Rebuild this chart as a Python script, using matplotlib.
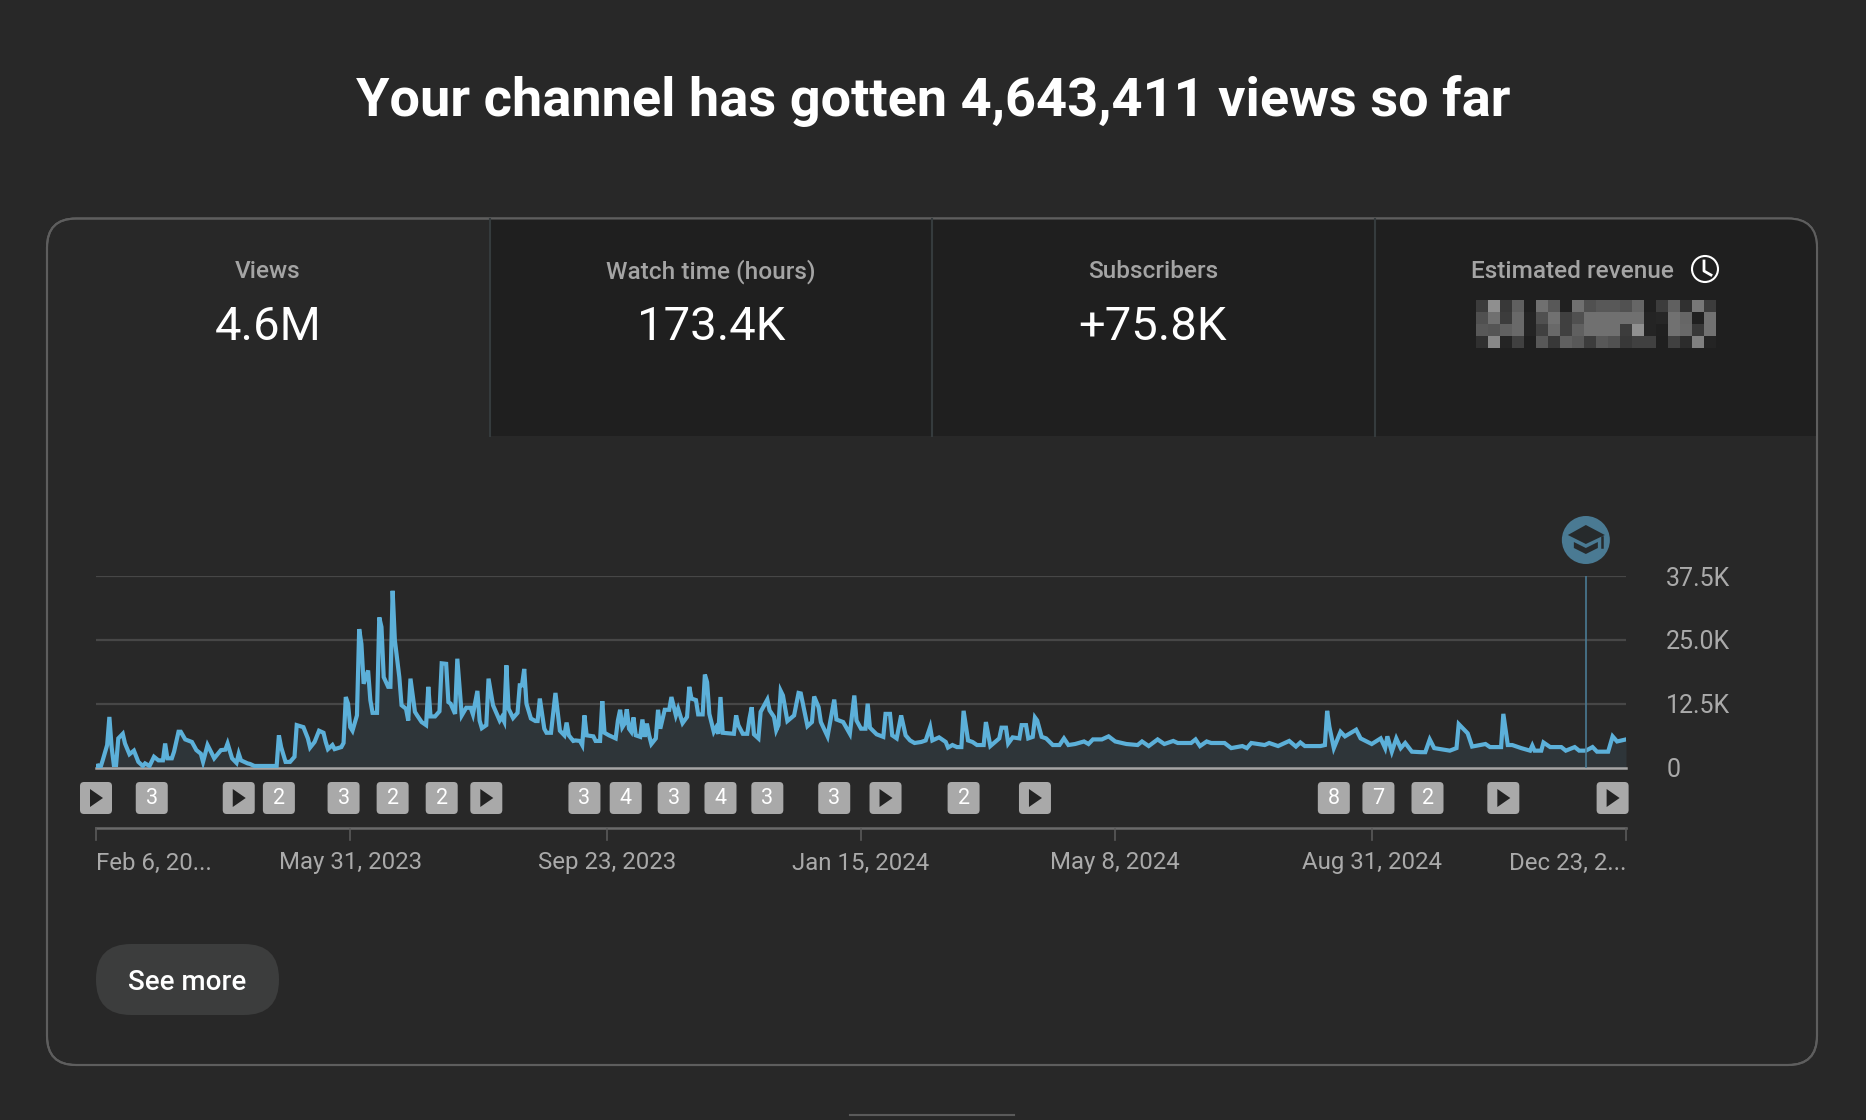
import numpy as np
import matplotlib
matplotlib.use("Agg")
from matplotlib import pyplot as plt
from matplotlib.patches import FancyBboxPatch, Rectangle, Circle, Polygon
from matplotlib.transforms import blended_transform_factory

W, H = 1866, 1120

title = "Your channel has gotten 4,643,411 views so far"
card_names = ["Views", "Watch time (hours)", "Subscribers", "Estimated revenue"]
card_values = ["4.6M", "173.4K", "+75.8K"]

# days since Feb 6, 2023 / views in thousands
days = [0,1,2,3,5,6,7,8,9,10,12,13,15,17,19,21,22,24,26,28,30,31,32,34,35,37,38,40,43,45,47,48,50,52,53,56,58,59,61,63,64,65,68,69,71,81,82,83,85,87,89,90,93,95,96,98,100,102,103,104,106,107,110,111,112,113,114,115,117,118,119,120,122,123,124,126,127,128,129,131,132,133,134,136,137,139,140,141,143,144,146,148,149,150,152,154,155,157,158,159,161,162,164,166,168,169,171,172,173,175,176,178,181,182,183,184,185,187,189,190,191,192,193,195,197,198,199,201,202,204,206,208,210,211,212,214,
        215,217,218,219,220,223,224,226,227,228,230,233,234,235,236,237,238,239,240,241,242,244,245,246,247,248,249,251,252,253,255,257,258,260,261,263,265,266,267,269,270,272,273,274,275,277,278,279,280,281,286,287,288,290,292,293,294,295,297,298,301,302,304,305,306,307,308,310,313,315,316,319,321,322,324,325,328,331,332,335,338,340,341,343,345,346,347,350,353,354,356,357,359,361,363,365,367,370,372,374,375,378,381,382,384,386,388,389,391,393,395,398,399,401,405,406,408,409,411,414,415,417,418,420,421,422,424,426,429,432,
        434,436,439,443,445,447,451,454,457,462,467,469,472,476,479,483,485,491,493,495,498,500,506,509,514,516,518,524,526,530,535,538,540,542,549,551,552,553,555,558,560,565,567,572,576,578,579,581,583,585,587,590,594,596,598,600,607,610,611,615,617,623,625,630,631,633,635,639,643,644,645,648,649,652,657,659,663,665,668,671,673,678,680,682,686]
views = [.3,.4,0,1.4,4.4,9.9,4.0,.5,.5,5.7,6.6,4.7,2.6,3.3,1.1,.3,.8,.3,2.1,1.4,1.4,4.7,1.8,1.8,3.1,7.0,7.0,5.5,5.0,3.4,2.7,1.1,4.4,2.7,1.8,3.4,3.5,4.7,1.8,.9,2.7,1.4,.8,.7,.3,.3,6.3,4.0,1.1,1.1,2.1,8.3,7.9,5.7,3.9,5.0,7.2,6.8,5.0,3.6,4.4,3.6,4.0,4.8,13.8,12.5,7.9,7.2,10.2,27.1,24.2,16.4,19.0,13.2,10.7,10.7,29.4,27.5,17.7,15.8,15.8,34.6,24.9,17.7,12.2,11.5,9.2,17.4,10.9,10.2,8.9,8.3,15.8,10.0,10.0,11.0,20.4,20.3,12.8,12.5,10.5,21.3,10.2,11.7,11.7,10.4,15.0,9.2,7.7,8.3,17.4,12.2,9.2,9.9,9.0,20.0,11.5,9.7,10.7,16.1,16.1,19.3,12.5,9.6,9.1,9.1,13.5,7.6,6.8,6.8,14.6,7.2,6.3,8.8,6.3,5.2,
         5.3,5.2,4.4,10.2,6.3,6.1,5.2,5.2,13.0,6.8,6.3,5.7,9.2,11.3,7.9,8.6,11.4,7.6,7.0,9.8,6.3,6.0,9.4,6.0,8.6,6.3,4.6,5.7,11.3,7.6,11.3,11.3,13.8,10.2,11.5,8.7,9.9,15.8,13.5,13.2,10.4,10.4,18.2,16.7,10.5,7.0,7.8,6.6,13.8,6.8,6.6,10.2,8.3,6.6,6.6,9.6,11.8,6.5,5.7,10.9,13.3,11.2,9.9,7.3,8.3,15.0,14.1,9.1,10.2,14.6,14.5,8.1,8.9,13.9,11.8,8.9,6.1,13.3,9.4,8.9,6.6,14.1,9.2,7.6,7.6,12.5,7.8,6.5,6.0,10.5,10.5,6.3,5.7,10.2,6.3,5.3,4.8,5.0,5.3,7.9,5.3,5.9,5.0,3.9,4.4,4.0,4.0,11.1,5.3,5.0,4.4,4.4,8.9,4.2,5.7,7.8,7.8,4.7,5.9,5.7,8.3,8.3,5.7,6.0,9.8,9.2,6.0,5.7,4.4,4.4,
         5.7,4.4,4.6,5.1,4.6,5.5,5.5,6.1,5.1,4.6,4.4,5.1,4.2,5.5,4.6,5.2,4.8,4.8,5.5,4.2,5.1,4.8,4.8,3.8,4.2,3.8,4.8,4.4,4.8,4.2,5.2,4.1,4.9,4.2,4.2,4.4,11.1,8.0,3.8,7.0,6.1,7.4,5.7,4.6,5.7,3.8,6.1,3.1,5.7,3.8,4.8,3.1,3.0,3.0,5.5,3.8,3.3,3.8,8.5,6.7,4.1,4.6,4.0,4.0,10.5,4.4,4.4,3.8,3.3,4.3,3.3,3.3,4.9,4.0,4.0,3.3,4.0,3.3,3.3,4.0,3.1,3.1,6.1,5.1,5.5]

y_ticks = [0, 12.5, 25.0, 37.5]
y_labels = ["0", "12.5K", "25.0K", "37.5K"]
x_tick_days = [0, 114, 229, 343, 457, 572, 686]
x_labels = ["Feb 6, 20...", "May 31, 2023", "Sep 23, 2023", "Jan 15, 2024", "May 8, 2024", "Aug 31, 2024", "Dec 23, 2..."]

# "" means a play triangle
badge_days = [0,25,64,82,111,133,155,175,219,237.5,259,280,301,331,354,389,421,555,575,597,631,680]
badge_text = ["","3","","2","3","2","2","","3","4","3","4","3","3","","2","","8","7","2","",""]
milestone_day = 668

# censored revenue, gray levels
blur = [[0x3c,0x8f,0x38,0x60,0x20,0x70,0x58,0x20,0x70,0x50,0x58,0x58,0x52,0x66,0x20,0x3c,0x60,0x30,0x78,0x3c],
        [0x50,0x70,0x3c,0x6a,0x24,0x50,0x72,0x40,0x50,0x70,0x70,0x70,0x70,0x70,0x24,0x26,0x72,0x66,0x20,0x72],
        [0x58,0x55,0x60,0x6a,0x24,0x40,0x6a,0x40,0x60,0x70,0x70,0x70,0x3c,0x90,0x24,0x20,0x72,0x68,0x38,0x72],
        [0x30,0x88,0x24,0x40,0x1f,0x58,0x38,0x60,0x58,0x3c,0x58,0x52,0x38,0x40,0x40,0x1f,0x40,0x2c,0x80,0x24]]

plt.rcParams['font.family'] = ['Roboto', 'DejaVu Sans']

BG = "#282828"
DARK = "#1f1f1f"
BORDER = "#5e5e5e"
GRAY = "#aaaaaa"
LINE = "#5cb0d9"
HAT = "#4a7a93"
ICON = "#262a2c"

fig = plt.figure(figsize=(W/100, H/100), dpi=100, facecolor=BG)

# whole-figure axes in pixels for the page furniture
page = fig.add_axes([0, 0, 1, 1], zorder=0)
page.set_xlim(0, W)
page.set_ylim(H, 0)
page.axis("off")

page.text(933, 101, title, color="white", fontsize=39, fontweight="bold", ha="center", va="center")

# card outline, with the dark tabs clipped to it
card = FancyBboxPatch((47, 218.5), 1770, 846.5, boxstyle="round,pad=0,rounding_size=29", fc=BG, ec=BORDER, lw=1.5, zorder=1)
page.add_patch(card)
tabs = Rectangle((490, 218), 1327, 218, fc=DARK, ec="none", zorder=1.1)
page.add_patch(tabs)
tabs.set_clip_path(card)
page.add_patch(FancyBboxPatch((47, 218.5), 1770, 846.5, boxstyle="round,pad=0,rounding_size=29", fc="none", ec=BORDER, lw=1.5, zorder=1.2))
for x in [490, 932, 1375]:
    page.plot([x, x], [219, 436], color="#353b3d", lw=1.5, zorder=1.3)

centers = [268, 711, 1153, 1572]
for x, name in zip(centers, card_names):
    page.text(x, 272, name, color="#a4a4a4", fontsize=17.6, fontweight="medium", ha="center", va="center", zorder=2)
for x, val in zip(centers, card_values):
    page.text(x, 327, val, color="white", fontsize=34, ha="center", va="center", zorder=2)

# clock next to revenue
page.add_patch(Circle((1705, 269), 13, fc="none", ec="white", lw=1.5, zorder=2))
page.plot([1704, 1704, 1711], [261, 271, 275], color="white", lw=2, zorder=2)

blur_px = np.array(blur) / 255.0
page.imshow(blur_px, cmap="gray", vmin=0, vmax=1, extent=(1476, 1716, 348, 300), interpolation="nearest", aspect="auto", zorder=2)
page.set_xlim(0, W)
page.set_ylim(H, 0)

# chart
ax = fig.add_axes([96/W, 1 - 767.5/H, 1530/W, 191.5/H], zorder=1)
ax.patch.set_alpha(0)
ax.set_xlim(0, 686)
ax.set_ylim(0, 37.5)
ax.fill_between(days, views, 0, color="#2e3539", lw=0, zorder=1)
ax.plot(days, views, color=LINE, lw=3, solid_joinstyle="miter", zorder=3)
ax.set_yticks(y_ticks)
ax.set_yticklabels(y_labels, color=GRAY, fontsize=18)
ax.yaxis.tick_right()
ax.tick_params(axis="y", length=0, pad=29)
ax.set_xticks([])
ax.grid(axis="y", color="#474747", lw=1.6, zorder=0)
ax.set_axisbelow(True)
for s in ["top", "left", "right"]:
    ax.spines[s].set_visible(False)
ax.spines["bottom"].set_color("#a6a6a6")
ax.spines["bottom"].set_linewidth(1.8)
ax.axvline(milestone_day, color=HAT, lw=1.2, zorder=4)

# overlay for things below the plot, x in days and y in pixels
over = fig.add_axes([0, 0, 1, 1], zorder=2)
over.set_xlim(0, W)
over.set_ylim(H, 0)
over.axis("off")
tr = blended_transform_factory(ax.transData, over.transData)

for d, t in zip(badge_days, badge_text):
    cx = ax.transData.transform((d, 0))[0]
    over.add_patch(FancyBboxPatch((cx - 13.5, 782 + 2.5), 27, 27, boxstyle="round,pad=2.5,rounding_size=4", fc="#a9a9a9", ec="none"))
    if t:
        over.text(cx, 798, t, color="white", fontsize=15.5, ha="center", va="center")
    else:
        over.add_patch(Polygon([(cx - 6, 789), (cx - 6, 807), (cx + 7, 798)], fc="#222222", ec="none"))

over.plot([0, 686], [828, 828], color="#6a6a6a", lw=1.8, transform=tr)
for d in x_tick_days:
    over.plot([d, d], [828, 840], color="#5a5a5a", lw=1.2, transform=tr)
for i, (d, lab) in enumerate(zip(x_tick_days, x_labels)):
    ha = "left" if i == 0 else ("right" if i == len(x_labels) - 1 else "center")
    over.text(d, 863, lab, color=GRAY, fontsize=17.3, ha=ha, va="center", transform=tr)

# milestone hat
hx = ax.transData.transform((milestone_day, 0))[0]
over.add_patch(Circle((hx, 540), 24, fc=HAT, ec="none"))
over.add_patch(Polygon([(hx - 18, 535), (hx, 525), (hx + 19, 535), (hx, 544)], fc=ICON, ec="none"))
over.add_patch(Polygon([(hx - 12, 542), (hx - 12, 548), (hx, 554), (hx + 12, 548), (hx + 12, 542), (hx, 548)], fc=ICON, ec="none"))
over.plot([hx + 16, hx + 16], [537, 547], color=ICON, lw=1.8)

# button and scroll hint
over.add_patch(FancyBboxPatch((96, 944), 183, 71, boxstyle="round,pad=0,rounding_size=35", fc="#3c3d3d", ec="none"))
over.text(187, 982, "See more", color="white", fontsize=20, fontweight="medium", ha="center", va="center")
over.plot([850, 1014], [1115, 1115], color="#5a5a5a", lw=1.5)

fig.savefig("out.png", dpi=100, facecolor=BG)
